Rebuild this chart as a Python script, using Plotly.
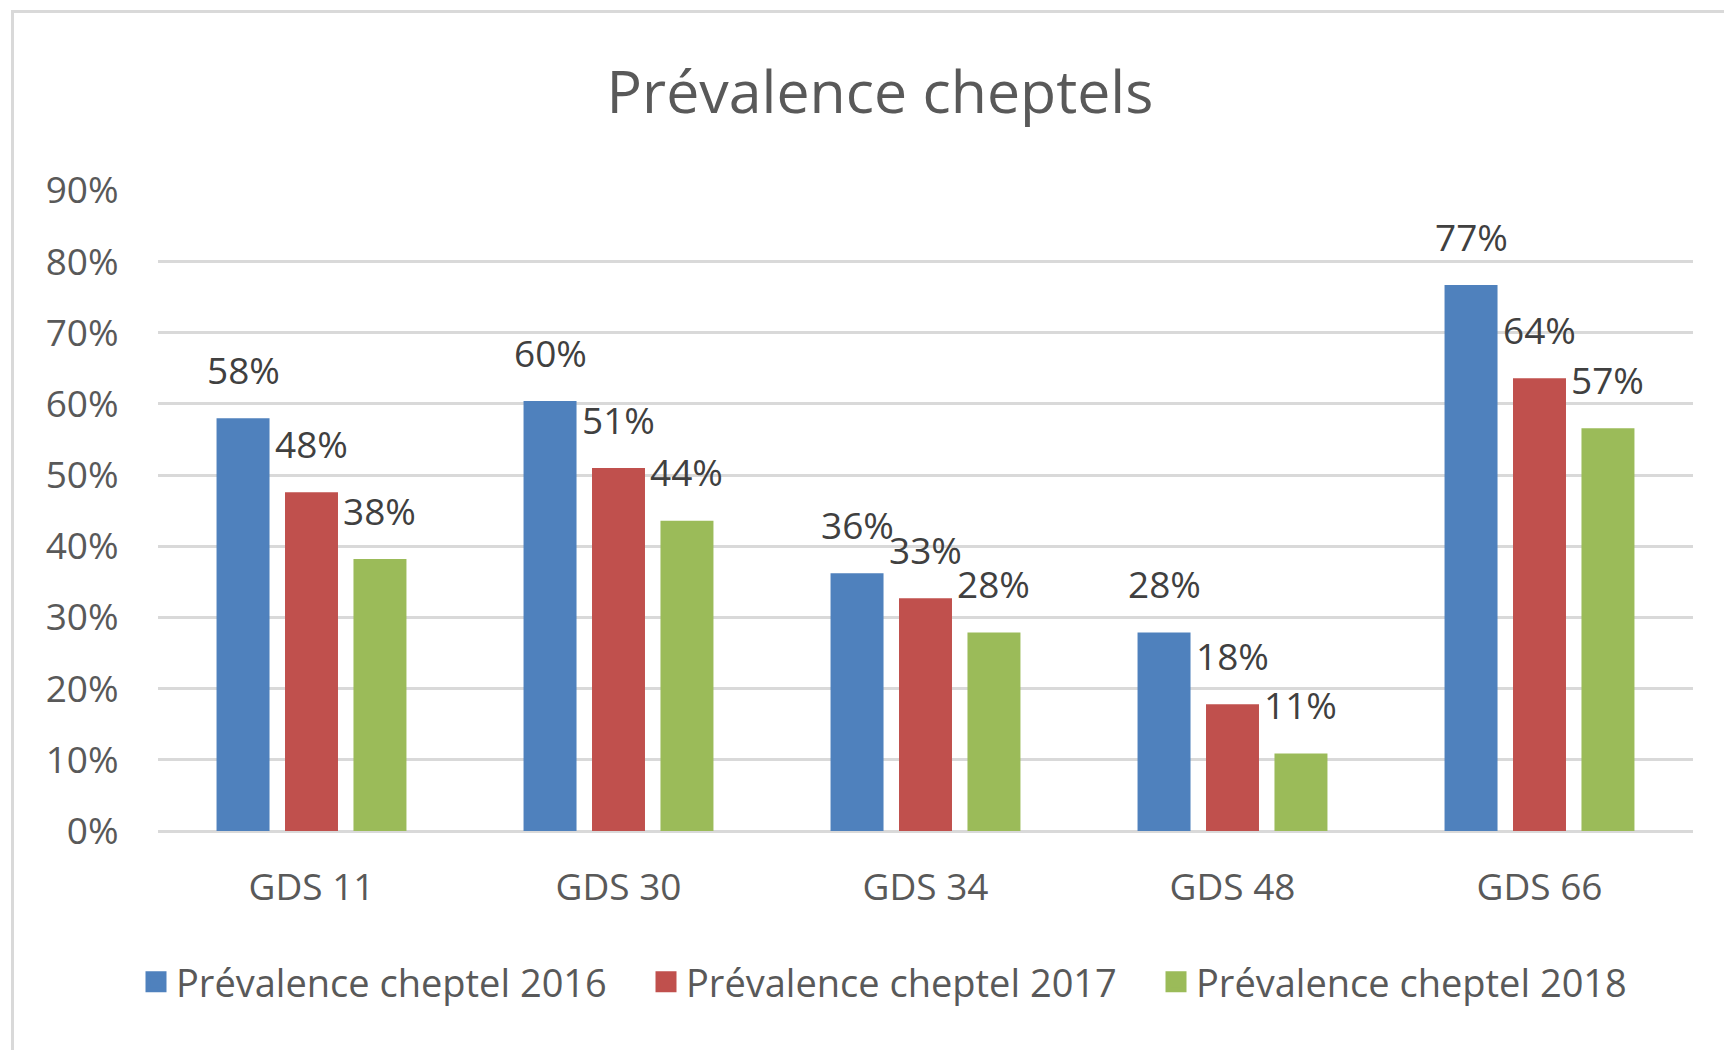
import plotly.graph_objects as go

categories = ["GDS 11", "GDS 30", "GDS 34", "GDS 48", "GDS 66"]
series_names = ["Prévalence cheptel 2016", "Prévalence cheptel 2017", "Prévalence cheptel 2018"]
prev_2016 = [0.580, 0.604, 0.362, 0.279, 0.767]
prev_2017 = [0.476, 0.510, 0.327, 0.178, 0.636]
prev_2018 = [0.382, 0.436, 0.279, 0.109, 0.566]
y_tickvals = [0, 0.1, 0.2, 0.3, 0.4, 0.5, 0.6, 0.7, 0.8, 0.9]
colors = ["#4F81BD", "#C0504D", "#9BBB59"]

series = [prev_2016, prev_2017, prev_2018]
FONT = "Open Sans"
W, H = 1724, 1042
BARGAP = 0.331
GROUPGAP = 0.226

fig = go.Figure()
for name, vals, col in zip(series_names, series, colors):
    fig.add_trace(go.Bar(x=categories, y=vals, name=name, marker_color=col,
                         marker_line_width=0, showlegend=False))
# legend proxies (no data)
for name, col in zip(series_names, colors):
    fig.add_trace(go.Scatter(x=[None], y=[None], mode="markers", name=name,
                             marker=dict(symbol="square", size=16, color=col,
                                         line=dict(width=5, color=col))))

slot = (1 - BARGAP) / len(series)
annotations = []
for k, vals in enumerate(series):
    off = (k - (len(series) - 1) / 2) * slot
    for i, v in enumerate(vals):
        annotations.append(dict(x=i + off, y=v, xref="x", yref="y",
                                text=f"{round(v*100):.0f}%", showarrow=False,
                                yanchor="middle", yshift=49,
                                font=dict(family=FONT, size=37, color="#404040")))

pl, pr = 150, 1685
pt, pb = 182, 823
def px_x(x):
    return (x - pl) / (pr - pl)
def px_y(y):
    return (pb - y) / (pb - pt)

fig.update_layout(
    width=W, height=H,
    margin=dict(l=pl, r=W - pr, t=pt, b=H - pb),
    paper_bgcolor="white", plot_bgcolor="white",
    barmode="group", bargap=BARGAP, bargroupgap=GROUPGAP,
    title=dict(text="Prévalence cheptels", x=872 / W, xref="container", xanchor="center",
               y=1 - 84 / H, yref="container", yanchor="middle",
               font=dict(family=FONT, size=59, color="#595959")),
    font=dict(family=FONT, size=37, color="#595959"),
    xaxis=dict(type="category", showgrid=False, showline=False, zeroline=False,
               ticks="outside", ticklen=24, tickcolor="rgba(0,0,0,0)",
               tickfont=dict(family=FONT, size=37, color="#595959")),
    yaxis=dict(range=[0, 0.9006], tickvals=y_tickvals, tickformat=".0%",
               showgrid=True, gridcolor="#D9D9D9", gridwidth=3,
               zeroline=True, zerolinecolor="#D9D9D9", zerolinewidth=3,
               showline=False, ticks="outside", ticklen=31, tickcolor="rgba(0,0,0,0)",
               tickfont=dict(family=FONT, size=37, color="#595959")),
    legend=dict(orientation="h", x=893 / W, xref="container", xanchor="center",
                y=1 - 974 / H, yref="container", yanchor="middle",
                font=dict(family=FONT, size=38, color="#595959"),
                itemsizing="trace", entrywidth=465, entrywidthmode="pixels"),
    annotations=annotations,
    shapes=[dict(type="rect", xref="paper", yref="paper",
                 x0=px_x(4.5), x1=px_x(1760), y0=px_y(1070), y1=px_y(3.5),
                 line=dict(color="#D9D9D9", width=3), fillcolor="rgba(0,0,0,0)", layer="below")],
)

fig.write_html("out.html")
